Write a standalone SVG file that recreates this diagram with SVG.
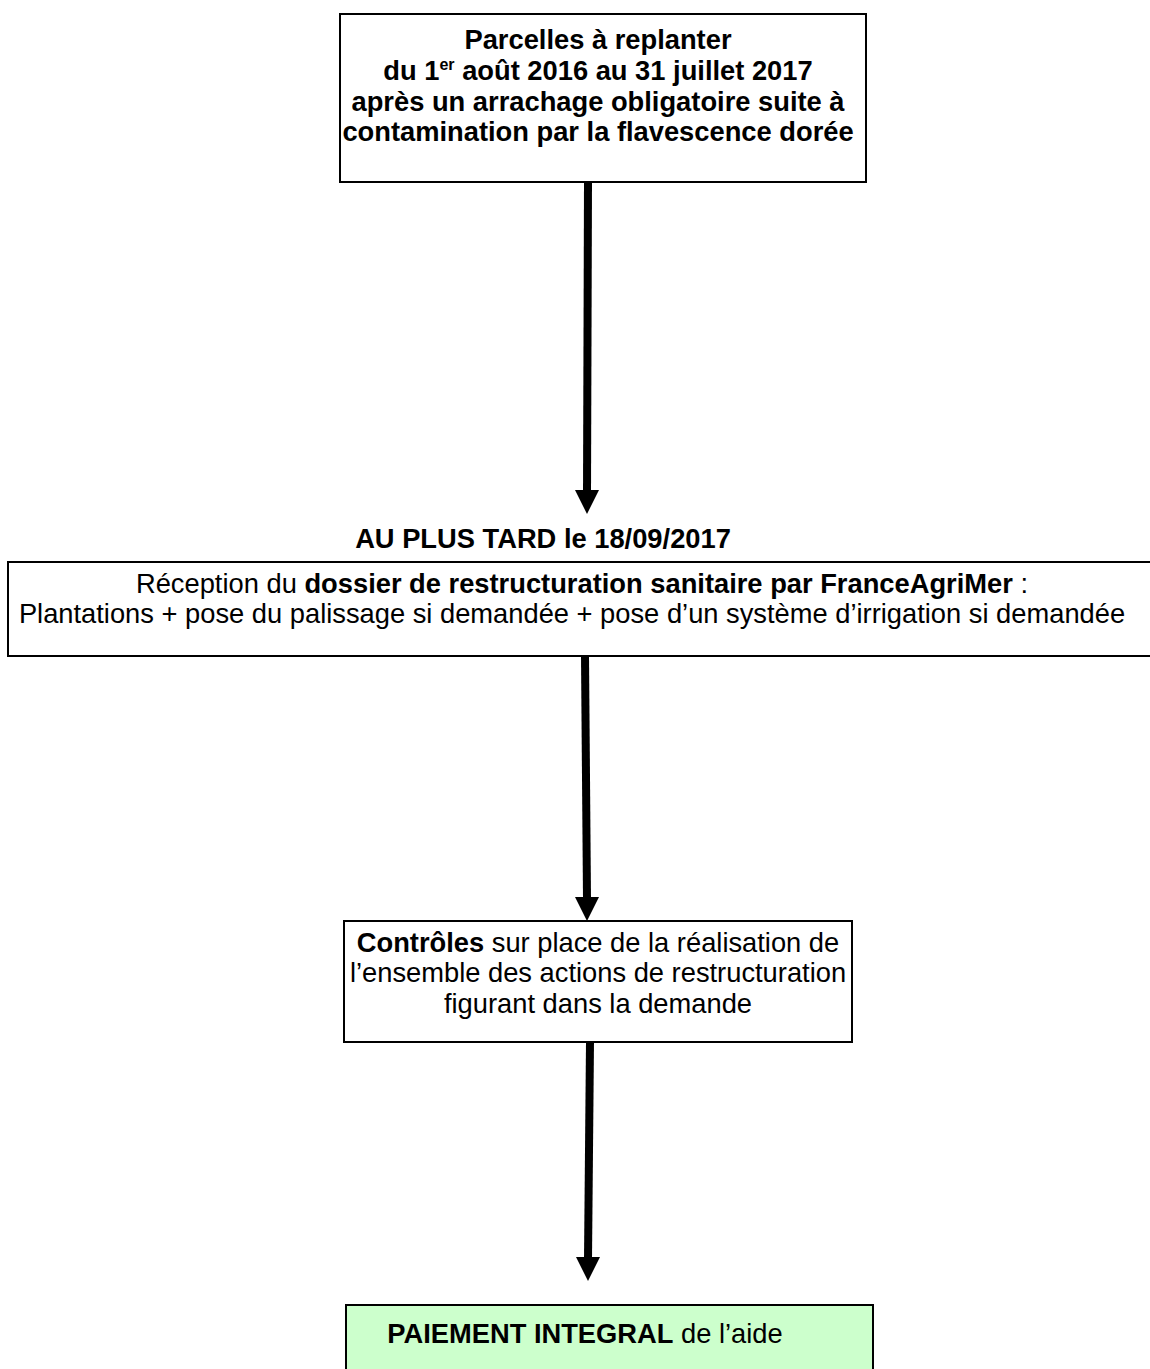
<svg xmlns="http://www.w3.org/2000/svg" width="1150" height="1369" viewBox="0 0 1150 1369">
<style>
.box{fill:#fff;stroke:#000;stroke-width:2}
.green{fill:#ccffcc;stroke:#000;stroke-width:2}
text{font-family:"Liberation Sans",Arial,sans-serif;font-size:27.3px;fill:#000}
.c{text-anchor:middle}
.b{font-weight:bold}
.shaft{stroke:#000;stroke-width:8;fill:none}
.head{fill:#000}
</style>
<rect width="1150" height="1369" fill="#fff"/>
<g id="n1">
<rect class="box" x="340" y="14" width="526" height="168"/>
<text class="c b" x="598" y="49">Parcelles à replanter</text>
<text class="c b" x="598" y="80">du 1<tspan font-size="16" dy="-10">er</tspan><tspan dy="10"> août 2016 au 31 juillet 2017</tspan></text>
<text class="c b" x="598" y="111">après un arrachage obligatoire suite à</text>
<text class="c b" x="598" y="141">contamination par la flavescence dorée</text>
</g>
<g id="label1">
<text class="c b" x="543" y="548">AU PLUS TARD le 18/09/2017</text>
</g>
<g id="n2">
<rect class="box" x="8" y="562" width="1150" height="94"/>
<text class="c" x="582" y="593">Réception du <tspan class="b">dossier de restructuration sanitaire par FranceAgriMer</tspan> :</text>
<text class="c" x="572" y="623">Plantations + pose du palissage si demandée + pose d’un système d’irrigation si demandée</text>
</g>
<g id="n3">
<rect class="box" x="344" y="921" width="508" height="121"/>
<text class="c" x="598" y="952"><tspan class="b">Contrôles</tspan> sur place de la réalisation de</text>
<text class="c" x="598" y="982">l’ensemble des actions de restructuration</text>
<text class="c" x="598" y="1013">figurant dans la demande</text>
</g>
<g id="n4">
<rect class="green" x="346" y="1305" width="527" height="80"/>
<text class="c" x="585" y="1343"><tspan class="b">PAIEMENT INTEGRAL</tspan> de l’aide</text>
</g>
<g id="connectors">
<line class="shaft" x1="588" y1="182" x2="587" y2="492"/>
<polygon class="head" points="575,490 599,490 587,514"/>
<line class="shaft" x1="585" y1="656" x2="587" y2="899"/>
<polygon class="head" points="575,897 599,897 587,921"/>
<line class="shaft" x1="590" y1="1042" x2="588" y2="1259"/>
<polygon class="head" points="576,1257 600,1257 588,1281"/>
</g>
</svg>
